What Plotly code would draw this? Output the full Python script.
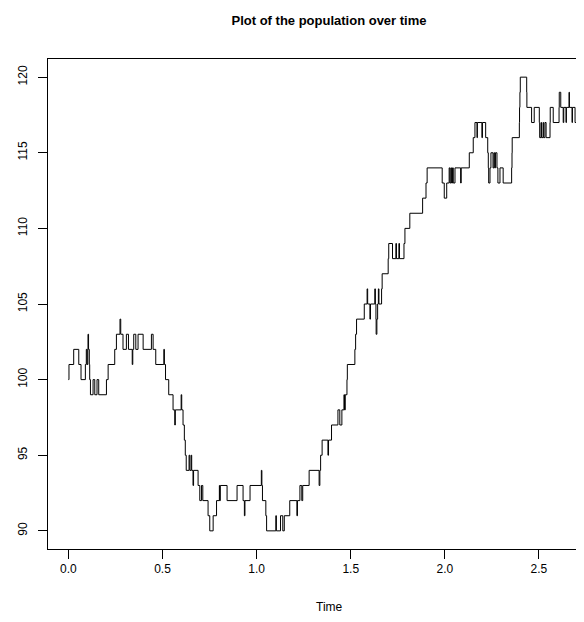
import plotly.graph_objects as go

# Event times and population values (step function, R type="s")
times = [0.000, 0.003, 0.028, 0.055, 0.067, 0.090, 0.095, 0.099, 0.103, 0.104,
         0.107, 0.111, 0.113, 0.117, 0.131, 0.140, 0.152, 0.161, 0.202, 0.211,
         0.246, 0.255, 0.274, 0.278, 0.290, 0.308, 0.319, 0.339, 0.342, 0.347,
         0.358, 0.370, 0.397, 0.441, 0.450, 0.464, 0.507, 0.510, 0.516, 0.533,
         0.556, 0.565, 0.568, 0.599, 0.602, 0.609, 0.616, 0.621, 0.626, 0.641,
         0.645, 0.652, 0.655, 0.662, 0.665, 0.689, 0.698, 0.707, 0.714, 0.742,
         0.751, 0.769, 0.787, 0.802, 0.804, 0.807, 0.843, 0.896, 0.928, 0.935,
         0.938, 0.965, 1.025, 1.028, 1.031, 1.049, 1.053, 1.102, 1.105, 1.127,
         1.139, 1.147, 1.176, 1.214, 1.217, 1.230, 1.240, 1.245, 1.279, 1.332,
         1.336, 1.340, 1.348, 1.379, 1.382, 1.398, 1.432, 1.442, 1.453, 1.464,
         1.467, 1.471, 1.480, 1.482, 1.522, 1.526, 1.531, 1.572, 1.587, 1.590,
         1.602, 1.605, 1.628, 1.631, 1.634, 1.635, 1.639, 1.643, 1.647, 1.650,
         1.664, 1.667, 1.699, 1.702, 1.722, 1.740, 1.743, 1.756, 1.759, 1.783,
         1.788, 1.814, 1.882, 1.900, 1.906, 1.986, 1.997, 2.010, 2.023, 2.027,
         2.032, 2.036, 2.041, 2.045, 2.054, 2.084, 2.087, 2.130, 2.151, 2.160,
         2.171, 2.173, 2.197, 2.200, 2.217, 2.228, 2.231, 2.233, 2.240, 2.245,
         2.256, 2.261, 2.265, 2.269, 2.277, 2.282, 2.293, 2.310, 2.355, 2.357,
         2.358, 2.396, 2.397, 2.399, 2.401, 2.435, 2.436, 2.461, 2.475, 2.502,
         2.504, 2.511, 2.514, 2.522, 2.525, 2.532, 2.538, 2.559, 2.560, 2.576,
         2.607, 2.608, 2.616, 2.629, 2.632, 2.644, 2.646, 2.660, 2.662, 2.676,
         2.678, 2.692, 2.710]

population = [100, 101, 102, 101, 100, 101, 102, 101, 102, 103,
              102, 101, 100, 99, 100, 99, 100, 99, 100, 101,
              102, 103, 104, 103, 102, 103, 102, 101, 102, 103,
              102, 103, 102, 103, 102, 101, 102, 101, 100, 99,
              98, 97, 98, 99, 98, 97, 96, 95, 94, 95,
              94, 95, 94, 93, 94, 93, 92, 93, 92, 91,
              90, 91, 92, 93, 92, 93, 92, 93, 92, 91,
              92, 93, 94, 93, 92, 91, 90, 91, 90, 91,
              90, 91, 92, 91, 92, 93, 92, 93, 94, 93,
              94, 95, 96, 95, 96, 97, 98, 97, 98, 99,
              98, 99, 100, 101, 102, 103, 104, 105, 106, 105,
              104, 105, 106, 105, 104, 103, 104, 105, 106, 105,
              106, 107, 108, 109, 108, 109, 108, 109, 108, 109,
              110, 111, 112, 113, 114, 113, 112, 113, 114, 113,
              114, 113, 114, 113, 114, 113, 114, 115, 116, 117,
              116, 117, 116, 117, 116, 115, 114, 113, 114, 115,
              114, 115, 114, 115, 114, 113, 114, 113, 114, 115,
              116, 117, 118, 119, 120, 119, 118, 117, 118, 117,
              116, 117, 116, 117, 116, 117, 116, 117, 118, 117,
              118, 119, 118, 117, 118, 117, 118, 119, 118, 117,
              118, 117, 117]

x_ticks = [0.0, 0.5, 1.0, 1.5, 2.0, 2.5]
x_tick_labels = ["0.0", "0.5", "1.0", "1.5", "2.0", "2.5"]
y_ticks = [90, 95, 100, 105, 110, 115, 120]
y_tick_labels = ["90", "95", "100", "105", "110", "115", "120"]

FONT = "Liberation Sans, Arial, Helvetica, sans-serif"

# page body has an 8px margin; figure is sized so it ends at the window edge
W, H = 576, 614

fig = go.Figure()
fig.add_trace(go.Scatter(
    x=times, y=population, mode="lines",
    line=dict(color="black", width=1, shape="hv"),
    hoverinfo="skip", showlegend=False,
))

fig.update_layout(
    width=W, height=H,
    margin=dict(l=40, r=0, t=51, b=73),
    paper_bgcolor="white", plot_bgcolor="white",
    font=dict(family=FONT, size=12, color="black"),
    title=dict(text="<b>Plot of the population over time</b>",
               xref="container", x=321 / W, xanchor="center",
               yref="container", y=1 - 12 / H, yanchor="middle",
               font=dict(family=FONT, size=13, color="black")),
    xaxis=dict(range=[-0.1085, 2.7395], tickvals=x_ticks, ticktext=x_tick_labels,
               showgrid=False, zeroline=False, showline=True, mirror=True,
               linecolor="black", linewidth=1, ticks="outside", ticklen=9,
               tickcolor="black", tickwidth=1, tickfont=dict(size=12)),
    yaxis=dict(range=[88.8, 121.2], tickvals=y_ticks, ticktext=y_tick_labels,
               showgrid=False, zeroline=False, showline=True, mirror=False,
               linecolor="black", linewidth=1, ticks="outside", ticklen=9,
               tickcolor="black", tickwidth=1, tickangle=-90, tickfont=dict(size=12),
               ticklabelstandoff=6),
    annotations=[dict(text="Time", xref="paper", yref="paper",
                      x=(321 - 40) / 536, y=-(599 - 541) / 490,
                      xanchor="center", yanchor="middle", showarrow=False,
                      font=dict(family=FONT, size=12, color="black"))],
)

fig.write_html("out.html")
